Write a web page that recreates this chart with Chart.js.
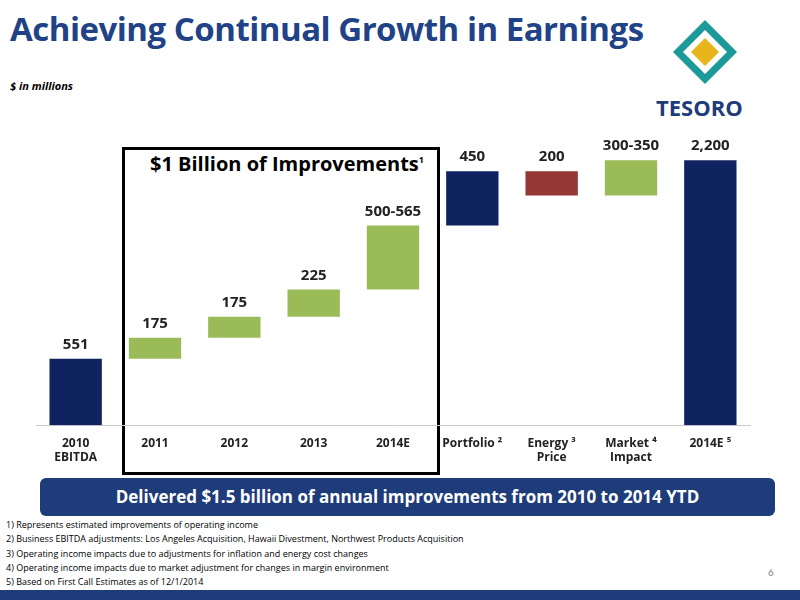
<!DOCTYPE html>
<html><head><meta charset="utf-8">
<script src="https://cdn.jsdelivr.net/npm/chart.js@4/dist/chart.umd.min.js"></script>
<style>
body{margin:0;width:800px;height:600px;background:#fff;font-family:Calibri,Carlito,"Open Sans",sans-serif;position:relative;overflow:hidden}
.abs{position:absolute}
</style></head><body>
<div class="abs" style="left:10px;top:6px;font-size:33px;font-weight:bold;color:#1f4386;font-family:'Open Sans',sans-serif;letter-spacing:-0.5px">Achieving Continual Growth in Earnings</div>
<div class="abs" style="left:10px;top:78px;font-size:11px;font-weight:bold;font-style:italic;font-family:'Open Sans',sans-serif">$ in millions</div>
<svg class="abs" style="left:660px;top:18px" width="90" height="70" viewBox="0 0 90 70">
<g transform="translate(45,34)">
<polygon points="0,-32 32,0 0,32 -32,0" fill="#1c9a9a"/>
<polygon points="0,-22 22,0 0,22 -22,0" fill="#fff"/>
<polygon points="0,-14 14,0 0,14 -14,0" fill="#e8b41c"/>
</g></svg>
<div class="abs" style="left:656px;top:92px;font-size:22px;font-weight:bold;color:#1f3c7a;font-family:'Open Sans',sans-serif">TESORO</div>
<div class="abs" style="left:122px;top:147px;width:312px;height:322px;border:3px solid #000"></div>
<div class="abs" style="left:150px;top:150px;font-size:20px;font-weight:bold;font-family:'Open Sans',sans-serif">$1 Billion of Improvements<sup style="font-size:9px">1</sup></div>
<div class="abs" style="left:40px;top:478px;width:735px;height:38px;background:#1f3c7a;border-radius:6px;color:#fff;font-size:17px;font-weight:bold;text-align:center;line-height:38px;font-family:'Open Sans',sans-serif">Delivered $1.5 billion of annual improvements from 2010 to 2014 YTD</div>
<div class="abs" style="left:6px;top:518px;font-size:9px;line-height:14.3px;font-family:'Open Sans',sans-serif">1) Represents estimated improvements of operating income<br>2) Business EBITDA adjustments: Los Angeles Acquisition, Hawaii Divestment, Northwest Products Acquisition<br>3) Operating income impacts due to adjustments for inflation and energy cost changes<br>4) Operating income impacts due to market adjustment for changes in margin environment<br>5) Based on First Call Estimates as of 12/1/2014</div>
<div class="abs" style="left:768px;top:566px;font-size:11px;color:#888">6</div>
<div class="abs" style="left:0;top:590px;width:800px;height:10px;background:#1f3c7a"></div>
<div class="abs" style="left:0;top:100px;width:790px;height:368px"><canvas id="c" width="790" height="368"></canvas></div>
<script>
const categories=[["2010","EBITDA"],"2011","2012","2013","2014E",["Portfolio ²"],["Energy ³","Price"],["Market ⁴","Impact"],"2014E ⁵"];
const starts=[0,551,726,901,1126,1658,2108,1908,0];
const ends=[551,726,901,1126,1658,2108,1908,2200,2200];
const valueLabels=["551","175","175","225","500-565","450","200","300-350","2,200"];
const colors=["#0f2360","#9bbb59","#9bbb59","#9bbb59","#9bbb59","#0f2360","#953735","#9bbb59","#0f2360"];
const lbl={id:'lbl',afterDatasetsDraw(ch){const ctx=ch.ctx;const m=ch.getDatasetMeta(0);ctx.save();ctx.font="bold 15px 'Open Sans',sans-serif";ctx.fillStyle="#222";ctx.textAlign="center";
m.data.forEach((b,i)=>{const y=ch.scales.y.getPixelForValue(Math.max(starts[i],ends[i]));ctx.fillText(valueLabels[i],b.x,y-10);});ctx.restore();}};
new Chart(document.getElementById('c'),{type:'bar',data:{labels:categories,datasets:[{data:starts.map((s,i)=>[s,ends[i]]),backgroundColor:colors,barPercentage:0.66,categoryPercentage:1}]},
options:{responsive:false,animation:false,layout:{padding:{left:36,right:40,top:0}},plugins:{legend:{display:false},tooltip:{enabled:false}},
scales:{y:{display:false,min:0,max:2700},x:{grid:{display:false},border:{display:true,color:"#ccc"},ticks:{color:"#222",font:{size:12,weight:'bold',family:"'Open Sans',sans-serif"}}}}},plugins:[lbl]});
</script></body></html>
